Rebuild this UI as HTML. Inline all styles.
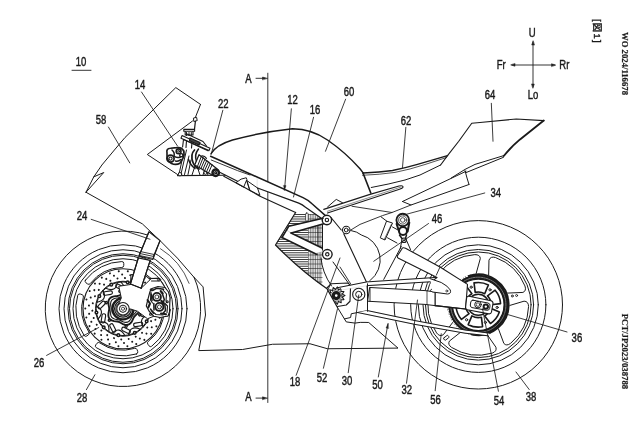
<!DOCTYPE html>
<html><head><meta charset="utf-8"><title>Fig. 1</title>
<style>
html,body{margin:0;padding:0;background:#fff;}
body{width:640px;height:427px;overflow:hidden;}
svg{display:block;will-change:transform;}
svg path, svg circle, svg line, svg ellipse, svg rect{stroke:#1a1a1a;stroke-linecap:round;stroke-linejoin:round;}
svg text{font-family:"Liberation Sans",sans-serif;fill:#1a1a1a;stroke:#1a1a1a;stroke-width:0.42px;}
svg text.serif{font-family:"Liberation Serif",serif;font-weight:bold;stroke-width:0.2px;}
svg text.cjk{font-family:"Liberation Sans","Noto Sans CJK JP",sans-serif;}
</style></head><body>
<svg width="640" height="427" viewBox="0 0 640 427">
<text transform="translate(75.80 66.10) scale(0.8 1)" font-size="11.9" text-anchor="start" >10</text>
<text transform="translate(134.80 89.30) scale(0.8 1)" font-size="11.9" text-anchor="start" >14</text>
<text transform="translate(95.80 123.80) scale(0.8 1)" font-size="11.9" text-anchor="start" >58</text>
<text transform="translate(218.00 107.80) scale(0.8 1)" font-size="11.9" text-anchor="start" >22</text>
<text transform="translate(287.30 103.60) scale(0.8 1)" font-size="11.9" text-anchor="start" >12</text>
<text transform="translate(309.80 113.80) scale(0.8 1)" font-size="11.9" text-anchor="start" >16</text>
<text transform="translate(343.80 95.80) scale(0.8 1)" font-size="11.9" text-anchor="start" >60</text>
<text transform="translate(400.80 124.50) scale(0.8 1)" font-size="11.9" text-anchor="start" >62</text>
<text transform="translate(484.80 98.60) scale(0.8 1)" font-size="11.9" text-anchor="start" >64</text>
<text transform="translate(490.40 196.80) scale(0.8 1)" font-size="11.9" text-anchor="start" >34</text>
<text transform="translate(431.80 223.30) scale(0.8 1)" font-size="11.9" text-anchor="start" >46</text>
<text transform="translate(76.80 220.10) scale(0.8 1)" font-size="11.9" text-anchor="start" >24</text>
<text transform="translate(33.80 366.70) scale(0.8 1)" font-size="11.9" text-anchor="start" >26</text>
<text transform="translate(76.80 402.30) scale(0.8 1)" font-size="11.9" text-anchor="start" >28</text>
<text transform="translate(289.80 385.80) scale(0.8 1)" font-size="11.9" text-anchor="start" >18</text>
<text transform="translate(316.80 381.60) scale(0.8 1)" font-size="11.9" text-anchor="start" >52</text>
<text transform="translate(341.80 384.80) scale(0.8 1)" font-size="11.9" text-anchor="start" >30</text>
<text transform="translate(372.30 388.80) scale(0.8 1)" font-size="11.9" text-anchor="start" >50</text>
<text transform="translate(401.40 394.30) scale(0.8 1)" font-size="11.9" text-anchor="start" >32</text>
<text transform="translate(430.30 403.60) scale(0.8 1)" font-size="11.9" text-anchor="start" >56</text>
<text transform="translate(493.80 404.80) scale(0.8 1)" font-size="11.9" text-anchor="start" >54</text>
<text transform="translate(525.80 401.40) scale(0.8 1)" font-size="11.9" text-anchor="start" >38</text>
<text transform="translate(571.60 341.80) scale(0.8 1)" font-size="11.9" text-anchor="start" >36</text>
<path d="M72.00 70.30 L91.00 70.30" stroke-width="0.88" fill="none" />
<text transform="translate(245.30 83.00) scale(0.8 1)" font-size="11.9" text-anchor="start" >A</text>
<text transform="translate(245.30 400.80) scale(0.8 1)" font-size="11.9" text-anchor="start" >A</text>
<text transform="translate(528.80 37.40) scale(0.8 1)" font-size="11.9" text-anchor="start" >U</text>
<text transform="translate(527.80 99.30) scale(0.8 1)" font-size="11.9" text-anchor="start" >Lo</text>
<text transform="translate(496.80 68.60) scale(0.8 1)" font-size="11.9" text-anchor="start" >Fr</text>
<text transform="translate(559.30 68.60) scale(0.8 1)" font-size="11.9" text-anchor="start" >Rr</text>
<path d="M533.00 42.00 L533.00 87.00" stroke-width="0.88" fill="none" />
<path d="M512.00 65.00 L554.50 65.00" stroke-width="0.88" fill="none" />
<path d="M533.00 41.00 L531.70 45.00 L534.30 45.00 Z" stroke-width="0.50" fill="#222" />
<path d="M533.00 88.00 L534.30 84.00 L531.70 84.00 Z" stroke-width="0.50" fill="#222" />
<path d="M511.00 65.00 L515.00 66.30 L515.00 63.70 Z" stroke-width="0.50" fill="#222" />
<path d="M555.50 65.00 L551.50 63.70 L551.50 66.30 Z" stroke-width="0.50" fill="#222" />
<path d="M267.80 73.20 L267.80 402.50" stroke-width="0.88" fill="none" />
<path d="M256.00 78.30 L264.00 78.30" stroke-width="0.88" fill="none" />
<path d="M267.30 78.30 L262.50 77.00 L262.50 79.60 Z" stroke-width="0.50" fill="#222" />
<path d="M256.00 398.10 L264.00 398.10" stroke-width="0.88" fill="none" />
<path d="M267.30 398.10 L262.50 396.80 L262.50 399.40 Z" stroke-width="0.50" fill="#222" />
<text class="cjk" transform="translate(594.4 18.9) rotate(90)" font-size="9.3" textLength="23.6" lengthAdjust="spacing">[図1]</text>
<text class="serif" transform="translate(621.6 32) rotate(90)" font-size="8.7">WO 2024/116678</text>
<text class="serif" transform="translate(621.6 313.8) rotate(90)" font-size="8.7">PCT/JP2023/038788</text>
<circle cx="123.00" cy="308.75" r="64.00" stroke-width="1.00" fill="none" />
<circle cx="123.00" cy="308.75" r="59.00" stroke-width="1.00" fill="none" />
<circle cx="123.00" cy="308.75" r="55.00" stroke-width="1.00" fill="none" />
<circle cx="123.00" cy="308.75" r="53.50" stroke-width="1.00" fill="none" />
<circle cx="123.00" cy="308.75" r="50.00" stroke-width="1.00" fill="none" />
<path d="M194.03 277.13 A77.75 77.75 0 1 1 147.67 235.02" stroke-width="1.00" fill="none" />
<circle cx="478.30" cy="304.80" r="84.20" stroke-width="1.00" fill="none" />
<circle cx="478.30" cy="304.80" r="67.60" stroke-width="1.00" fill="none" />
<circle cx="478.30" cy="304.80" r="60.00" stroke-width="1.00" fill="none" />
<circle cx="478.30" cy="304.80" r="55.30" stroke-width="1.00" fill="none" />
<circle cx="478.30" cy="304.80" r="52.80" stroke-width="1.00" fill="none" />
<path d="M489.11 259.78 Q490.47 255.99 495.50 257.53 A50.3 50.3 0 0 1 524.94 285.96 Q526.65 290.94 522.92 292.43 L506.48 293.13 A30.5 30.5 0 0 0 488.98 276.23 Z" stroke-width="1.00" fill="none" />
<path d="M524.46 301.17 Q528.48 301.29 528.57 306.56 A50.3 50.3 0 0 1 510.63 343.33 Q506.43 346.50 503.85 343.41 L498.11 327.99 A30.5 30.5 0 0 0 508.77 306.13 Z" stroke-width="1.00" fill="none" />
<path d="M496.02 347.58 Q497.14 351.44 492.16 353.15 A50.3 50.3 0 0 1 451.65 347.46 Q447.33 344.44 449.48 341.03 L462.36 330.81 A30.5 30.5 0 0 0 486.45 334.19 Z" stroke-width="1.00" fill="none" />
<path d="M443.09 334.87 Q439.77 337.13 436.60 332.93 A50.3 50.3 0 0 1 429.49 292.63 Q431.03 287.60 434.93 288.59 L448.64 297.68 A30.5 30.5 0 0 0 452.87 321.63 Z" stroke-width="1.00" fill="none" />
<path d="M438.82 280.61 Q435.64 278.15 438.66 273.83 A50.3 50.3 0 0 1 474.79 254.62 Q480.06 254.53 480.32 258.54 L475.91 274.39 A30.5 30.5 0 0 0 454.43 285.81 Z" stroke-width="1.00" fill="none" />
<circle cx="478.30" cy="304.80" r="29.40" stroke-width="1.12" fill="#fff" />
<path d="M473.09 334.34 A30.00 30.00 0 0 1 474.12 275.09" stroke-width="2.00" fill="none" />
<circle cx="478.3" cy="304.8" r="30.6" fill="none" stroke="#fff" stroke-width="1.3" stroke-dasharray="1.3 1.5" style="stroke:#fff"/>
<circle cx="478.30" cy="304.80" r="29.20" stroke-width="1.00" fill="none" />
<path d="M468.94 275.98 A30.30 30.30 0 1 1 471.48 334.32" stroke-width="2.00" fill="none" />
<circle cx="478.30" cy="304.80" r="27.60" stroke-width="3.75" fill="none" />
<circle cx="478.3" cy="304.8" r="27.6" fill="none" stroke-width="0.5" style="stroke:#ddd" stroke-dasharray="1.6 1.0"/>
<circle cx="478.30" cy="304.80" r="25.80" stroke-width="1.25" fill="none" />
<path d="M474.04 282.91 A22.3 22.3 0 0 1 488.42 284.93 L484.70 293.71 A12.8 12.8 0 0 0 475.20 292.38 Z" stroke-width="1.62" fill="none" />
<circle cx="490.00" cy="289.83" r="1.10" stroke-width="1.00" fill="none" />
<path d="M495.13 290.17 A22.3 22.3 0 0 1 500.57 303.63 L491.10 304.80 A12.8 12.8 0 0 0 487.51 295.91 Z" stroke-width="1.62" fill="none" />
<circle cx="497.12" cy="307.44" r="1.10" stroke-width="1.00" fill="none" />
<path d="M499.39 312.06 A22.3 22.3 0 0 1 490.45 323.50 L484.70 315.89 A12.8 12.8 0 0 0 490.60 308.33 Z" stroke-width="1.62" fill="none" />
<circle cx="485.42" cy="322.42" r="1.10" stroke-width="1.00" fill="none" />
<path d="M482.56 326.69 A22.3 22.3 0 0 1 468.18 324.67 L471.90 315.89 A12.8 12.8 0 0 0 481.40 317.22 Z" stroke-width="1.62" fill="none" />
<circle cx="466.60" cy="319.77" r="1.10" stroke-width="1.00" fill="none" />
<path d="M461.47 319.43 A22.3 22.3 0 0 1 456.03 305.97 L465.50 304.80 A12.8 12.8 0 0 0 469.09 313.69 Z" stroke-width="1.62" fill="none" />
<circle cx="459.48" cy="302.16" r="1.10" stroke-width="1.00" fill="none" />
<path d="M457.21 297.54 A22.3 22.3 0 0 1 466.15 286.10 L471.90 293.71 A12.8 12.8 0 0 0 466.00 301.27 Z" stroke-width="1.62" fill="none" />
<circle cx="471.18" cy="287.18" r="1.10" stroke-width="1.00" fill="none" />
<circle cx="478.30" cy="304.80" r="10.50" stroke-width="1.50" fill="none" />
<circle cx="512.30" cy="296.00" r="1.00" stroke-width="0.88" fill="none" />
<circle cx="516.60" cy="295.50" r="1.00" stroke-width="0.88" fill="none" />
<rect x="443.6" y="336.4" width="5.4" height="2.8" rx="0.8" transform="rotate(-38 446.3 337.8)" fill="#fff" stroke-width="0.9"/>
<path d="M200.50 104.40 L175.80 87.60 L125.00 137.50 L114.40 150.00 L101.90 165.00 L93.75 176.90 L86.00 192.25" stroke-width="1.00" fill="none" />
<path d="M93.75 176.90 L103.75 172.50 L86.00 192.25" stroke-width="1.00" fill="none" />
<path d="M86 192.25 L142.4 223.9 L160 240.6 Q178 257.5 193.75 277 L203.1 286.9 L205.5 315 L198.75 350.6 L242.5 349.5 L272.5 344.25 L310 343.75 L327.5 348.75 L398 348.1 L368.75 322.5 L366 322.4 Q360 322 355 323.1 L346.25 321.9 L337.5 307.5" stroke-width="1.00" fill="none" />
<path d="M192.50 121.00 L147.30 154.50 L177.50 174.50" stroke-width="1.00" fill="none" />
<path d="M200.50 104.40 L195.30 117.60" stroke-width="1.00" fill="none" />
<path d="M211 153.75 Q216 145 232.5 140 Q262 132 292.5 128.75 Q312 129 327.5 140 Q345 152 360 168.75 L363.5 173.4" stroke-width="1.44" fill="none" />
<clipPath id="radclip"><path d="M295.6 212.5 L308 212.5 L308 275 Q292 262 275.5 245 Z"/></clipPath>
<path clip-path="url(#radclip)" d="M270 214.50 H308.5 M270 216.75 H308.5 M270 219.00 H308.5 M270 221.25 H308.5 M270 223.50 H308.5 M270 225.75 H308.5 M270 228.00 H308.5 M270 230.25 H308.5 M270 232.50 H308.5 M270 234.75 H308.5 M270 237.00 H308.5 M270 239.25 H308.5 M270 241.50 H308.5 M270 243.75 H308.5 M270 246.00 H308.5 M270 248.25 H308.5 M270 250.50 H308.5 M270 252.75 H308.5 M270 255.00 H308.5 M270 257.25 H308.5 M270 259.50 H308.5 M270 261.75 H308.5 M270 264.00 H308.5 M270 266.25 H308.5 M270 268.50 H308.5 M270 270.75 H308.5 M270 273.00 H308.5 M270 275.25 H308.5 M270 277.50 H308.5 M270 279.75 H308.5 M270 282.00 H308.5 M270 284.25 H308.5 M270 286.50 H308.5 M270 288.75 H308.5" stroke-width="0.85"/>
<clipPath id="radclip2"><path d="M308 214 L322.5 214 L322.5 286.5 L308 275 Z"/></clipPath>
<path clip-path="url(#radclip2)" d="M308.60 214 V287 M310.35 214 V287 M312.10 214 V287 M313.85 214 V287 M315.60 214 V287 M317.35 214 V287 M319.10 214 V287 M320.85 214 V287 M308 214.50 H323 M308 219.00 H323 M308 223.50 H323 M308 228.00 H323 M308 232.50 H323 M308 237.00 H323 M308 241.50 H323 M308 246.00 H323 M308 250.50 H323 M308 255.00 H323 M308 259.50 H323 M308 264.00 H323 M308 268.50 H323 M308 273.00 H323 M308 277.50 H323 M308 282.00 H323 M308 286.50 H323" stroke-width="0.55"/>
<path d="M295.6 212.5 L275.5 245 Q300 270 327 288.75 L337.5 307.5" stroke-width="1.25" fill="none" />
<path d="M344.5 318.9 L350.6 317.5 L351.25 313.75 L367.5 310.6" stroke-width="1.00" fill="none" />
<path d="M322.50 224.50 L322.50 251.00" stroke-width="1.00" fill="none" />
<path d="M318.00 226.00 L318.00 249.00" stroke-width="0.75" fill="none" />
<path d="M323.00 218.30 L288.75 226.25 L285.50 229.50 L291.25 233.00 L323.75 223.75 Z" stroke-width="0.12" fill="#fff" stroke="none"/>
<path d="M291.00 233.00 L285.50 229.50 L282.00 237.50 L315.00 253.50 L323.00 251.50 L321.00 247.50 Z" stroke-width="0.12" fill="#fff" stroke="none"/>
<rect x="305.6" y="213" width="2.6" height="8" rx="1" fill="#fff" stroke-width="0.7"/>
<path d="M257.50 188.00 L298.75 203.10 L305.50 207.20 L322.40 219.00 L326.30 216.40 L312.00 203.80 L303.00 197.60 L257.50 177.40 Z" stroke-width="0.12" fill="#fff" stroke="none"/>
<path d="M210.6 156.25 L237.5 168.3 L303 197.6 Q308 199.8 312 203.8 L326.3 216.4" stroke-width="1.50" fill="none" />
<path d="M211.25 160 L237.5 170.6 L250 175" stroke-width="0.88" fill="none" />
<path d="M257.5 188 L298.75 203.1 Q302.5 204.6 305.5 207.2 L322.4 219" stroke-width="1.25" fill="none" />
<path d="M216.25 170.6 L237.5 181.25" stroke-width="1.12" fill="none" />
<path d="M223.75 176.25 L243.75 186.9 L260 196.25 L295.6 212.5" stroke-width="1.12" fill="none" />
<path d="M236.25 182.5 Q241 178 246.25 177.75 L246.9 179.4 L243.75 186.9 Z" stroke-width="1.00" fill="none" />
<path d="M246.9 180.6 L257.5 188 L260 195.5 L250 190.5 Z" stroke-width="1.00" fill="none" />
<path d="M246.9 180.6 L250 190.5" stroke-width="0.88" fill="none" />
<circle cx="326.90" cy="220.00" r="4.70" stroke-width="1.38" fill="#fff" />
<circle cx="326.90" cy="220.00" r="1.70" stroke-width="1.12" fill="none" />
<path d="M323.00 218.30 L288.75 226.25 L282.00 237.50" stroke-width="1.50" fill="none" />
<path d="M323.75 223.75 L291.25 233.00" stroke-width="1.50" fill="none" />
<path d="M291.00 233.00 L322.00 248.00" stroke-width="1.50" fill="none" />
<path d="M282.00 237.50 L317.00 254.50" stroke-width="1.50" fill="none" />
<circle cx="327.30" cy="254.30" r="4.80" stroke-width="1.38" fill="#fff" />
<circle cx="327.30" cy="254.30" r="1.70" stroke-width="1.12" fill="none" />
<path d="M331 217.5 L341.25 230" stroke-width="1.12" fill="none" />
<path d="M343.75 233.75 L366.9 283 L367.5 293" stroke-width="1.12" fill="none" />
<circle cx="346.25" cy="230.00" r="3.75" stroke-width="1.12" fill="#fff" />
<circle cx="346.25" cy="230.00" r="1.90" stroke-width="1.00" fill="none" />
<path d="M351.25 230.6 Q357 231.5 361.2 234.9 A26 26 0 0 1 370 280.6" stroke-width="1.00" fill="none" />
<path d="M321 258 Q322 272 331.5 286" stroke-width="1.00" fill="none" />
<path d="M333 262 L348 282.5" stroke-width="1.00" fill="none" />
<path d="M340 267 L350.6 283.75" stroke-width="0.88" fill="none" />
<path d="M326.90 288.00 L331.25 283.75 L348.00 283.00 L350.60 285.60 L350.00 301.25 L346.25 305.00 L337.50 306.50" stroke-width="1.12" fill="none" />
<clipPath id="spclip"><path d="M326.9 288 L331.25 283.75 L348 283 L350.6 285.6 L350 301.25 L346.25 305 L337.5 306.5 Z"/></clipPath>
<path d="M344.95 295.60 L342.27 297.08 L343.95 299.64 L340.89 299.71 L341.19 302.76 L338.45 301.40 L337.30 304.24 L335.50 301.75 L333.16 303.73 L332.73 300.70 L329.74 301.37 L330.76 298.48 L327.80 297.68 L330.05 295.60 L327.80 293.52 L330.76 292.72 L329.74 289.83 L332.73 290.50 L333.16 287.47 L335.50 289.45 L337.30 286.96 L338.45 289.80 L341.19 288.44 L340.89 291.49 L343.95 291.56 L342.27 294.12 L344.95 295.60 Z" stroke-width="1.12" fill="none" clip-path="url(#spclip)"/>
<circle cx="336.25" cy="295.60" r="5.60" stroke-width="0.62" fill="none" clip-path="url(#spclip)"/>
<circle cx="336.25" cy="295.60" r="3.00" stroke-width="3.25" fill="none" />
<circle cx="358.75" cy="294.40" r="6.10" stroke-width="1.12" fill="#fff" />
<circle cx="358.75" cy="294.40" r="3.10" stroke-width="1.00" fill="none" />
<path d="M363 173 L370.8 193" stroke-width="1.62" fill="none" />
<path d="M363 173 Q380 172.5 392.5 170.6 Q405 168 417.5 164.4 L447.5 155.6" stroke-width="1.50" fill="none" />
<path d="M362.5 175.3 Q380 174.6 395 172.4 Q410 169.5 425 164.5 L446.5 157.5" stroke-width="0.75" fill="none" />
<path d="M371.25 187.5 Q390 184 405 180 L420 175 L440.6 165" stroke-width="1.00" fill="none" />
<path d="M440.6 165 L447.5 155.6 L458.75 141.25 L471.75 123.25 L480 122.5 L516.25 119 L543.75 120.6" stroke-width="1.12" fill="none" />
<path d="M543.75 120.6 L520 139.4 Q511 147 503.75 156" stroke-width="1.88" fill="none" />
<path d="M503.75 155.6 L475 164.4 L465 169.4 L451.25 178" stroke-width="1.00" fill="none" />
<path d="M503.5 157.3 L466.25 172.5" stroke-width="1.00" fill="none" />
<path d="M465 170.6 L467 178 L469 184.5" stroke-width="1.00" fill="none" />
<path d="M402.50 201.50 L466.00 171.30" stroke-width="1.00" fill="none" />
<path d="M469.00 184.50 L411.00 205.00 L402.50 201.50" stroke-width="1.00" fill="none" />
<path d="M411.00 205.00 L392.00 212.50 L352.00 206.25" stroke-width="0.88" fill="none" />
<path d="M392 212.5 L382.5 215.6 L360 224.4 L350 230.5" stroke-width="0.88" fill="none" />
<path d="M323.75 209.4 L370 194.4 L399 186 Q403.5 185.2 403 187.3 Q402.5 188.5 399.5 189.2 L327.5 213" stroke-width="1.12" fill="none" />
<path d="M327.5 211.25 L400.5 187.2" stroke-width="0.50" fill="none" />
<path d="M327.50 207.00 L336.25 199.40 L342.50 202.75" stroke-width="1.00" fill="none" />
<path d="M340.00 287.20 L366.90 281.90 L437.00 277.40 L434.00 281.60 L367.50 285.60 L342.00 290.00 Z" stroke-width="0.12" fill="#fff" stroke="none"/>
<path d="M367.50 310.60 L415.00 320.60 L465.00 330.00 L490.00 333.20 L488.00 335.80 L465.00 333.20 L415.00 324.40 L357.50 312.50 Z" stroke-width="0.12" fill="#fff" stroke="none"/>
<path d="M338 287.6 L366.9 281.9 L437 277.4" stroke-width="1.00" fill="none" />
<path d="M367.5 285.6 L434 281.6" stroke-width="1.00" fill="none" />
<path d="M367.5 310.6 L415 320.6 L465 330 L490 333.2" stroke-width="1.00" fill="none" />
<path d="M357.5 312.5 L415 324.4 L465 333.2 L488 335.8" stroke-width="1.00" fill="none" />
<path d="M401.5 249.5 Q402.5 246.8 405.5 248.2 L440 267 L467.5 284.4 L465.6 309 L435 305.6 L435 291.9 L433 280.5 L437 277.6 L398.5 258.3 Q396.6 257 397.6 255.5 Z" stroke-width="1.12" fill="#fff" />
<path d="M440.00 267.00 L436.30 275.20" stroke-width="0.88" fill="none" />
<path d="M401.25 246.50 L383.75 279.40" stroke-width="1.00" fill="none" />
<path d="M367.50 283.75 L367.50 311.25" stroke-width="1.00" fill="none" />
<path d="M370 287.5 L425 290.6 L435 291.9 L435 305.6 L425 304.4 L368 301.25 Z" stroke-width="1.00" fill="#fff" />
<path d="M370.00 287.50 L370.00 301.30" stroke-width="0.88" fill="none" />
<path d="M427.00 290.80 L427.00 304.60" stroke-width="0.75" fill="none" />
<path d="M435 305.6 L465 309" stroke-width="1.12" fill="none" />
<path d="M430 278.6 L441.25 282.5 Q448 286 450.3 290 Q451.5 293.8 447.5 294 L432.5 292 " stroke-width="1.00" fill="#fff" />
<circle cx="446.80" cy="291.00" r="1.00" stroke-width="0.75" fill="none" />
<path d="M469 296.3 L491 300.7 Q493.2 301.3 493 303.5 L491.5 312 Q491 314.2 488.8 313.9 L467.5 309.8 Q465.2 309.3 465.6 307 L466.6 298 Q467 296 469 296.3 Z" stroke-width="1.12" fill="#fff" />
<path d="M473 300.2 L488 303 Q490.5 303.7 490 306 L489.6 308.5 Q489 310.6 486.8 310.3 L472 307.6 Q470 307 470.3 305 L470.8 302 Q471.2 299.9 473 300.2 Z" stroke-width="1.00" fill="none" />
<circle cx="478.00" cy="304.60" r="3.30" stroke-width="1.00" fill="#fff" />
<circle cx="478.00" cy="304.60" r="1.80" stroke-width="0.75" fill="none" />
<circle cx="485.80" cy="306.60" r="2.20" stroke-width="2.00" fill="#fff" />
<path d="M381.25 217.00 L386.90 221.25" stroke-width="1.00" fill="none" />
<path d="M386.90 221.25 L392.50 223.00 L385.00 240.00 L380.60 238.00 Z" stroke-width="1.00" fill="#fff" />
<path d="M392.50 227.00 L398.00 230.00" stroke-width="1.00" fill="none" />
<path d="M387.50 237.80 L397.00 243.00" stroke-width="1.00" fill="none" />
<path d="M391.30 224.50 L384.20 239.60" stroke-width="0.62" fill="none" />
<circle cx="402.75" cy="220.00" r="6.30" stroke-width="1.88" fill="#fff" />
<circle cx="402.75" cy="220.00" r="4.10" stroke-width="0.75" fill="none" />
<circle cx="402.75" cy="220.00" r="2.30" stroke-width="0.75" fill="none" />
<path d="M396.6 224 L399 231 M409.3 222.5 L407.6 231.5" stroke-width="2.00" fill="none" />
<circle cx="403.00" cy="231.00" r="4.00" stroke-width="2.00" fill="#fff" />
<circle cx="404.00" cy="240.25" r="2.30" stroke-width="1.12" fill="#fff" />
<circle cx="404.00" cy="240.25" r="0.70" stroke-width="0.75" fill="none" />
<path d="M401.7 241 L400.3 248.5 M406.2 239.6 L410.5 249.5" stroke-width="1.00" fill="none" />
<path d="M399.5 235 L401.8 238.3 M406.5 235 L405.6 238" stroke-width="1.50" fill="none" />
<path d="M136.46 353.99 A47.2 47.2 0 0 1 96.22 347.62 Q94.59 346.45 95.80 344.85 L96.94 343.33 Q98.15 341.73 99.77 342.90 A41.3 41.3 0 0 0 134.54 348.41 Q136.45 347.80 137.10 349.69 L137.72 351.49 Q138.37 353.38 136.46 353.99 Z" stroke-width="1.00" fill="none" />
<path d="M84.13 335.53 A47.2 47.2 0 0 1 77.76 295.29 Q78.37 293.38 80.26 294.03 L82.06 294.65 Q83.95 295.30 83.34 297.21 A41.3 41.3 0 0 0 88.85 331.98 Q90.02 333.60 88.42 334.81 L86.90 335.95 Q85.30 337.16 84.13 335.53 Z" stroke-width="1.00" fill="none" />
<path d="M85.52 280.06 A47.2 47.2 0 0 1 121.82 261.56 Q123.82 261.56 123.79 263.56 L123.76 265.46 Q123.72 267.46 121.72 267.47 A41.3 41.3 0 0 0 90.36 283.45 Q89.17 285.06 87.53 283.91 L85.97 282.82 Q84.34 281.68 85.52 280.06 Z" stroke-width="1.00" fill="none" />
<path d="M138.70 264.24 A47.2 47.2 0 0 1 167.51 293.05 Q168.14 294.95 166.22 295.53 L164.41 296.09 Q162.50 296.68 161.86 294.78 A41.3 41.3 0 0 0 136.97 269.89 Q135.07 269.25 135.66 267.34 L136.22 265.53 Q136.80 263.61 138.70 264.24 Z" stroke-width="1.00" fill="none" />
<path d="M170.19 309.93 A47.2 47.2 0 0 1 151.69 346.23 Q150.07 347.41 148.93 345.78 L147.84 344.22 Q146.69 342.58 148.30 341.39 A41.3 41.3 0 0 0 164.28 310.03 Q164.29 308.03 166.29 307.99 L168.19 307.96 Q170.19 307.93 170.19 309.93 Z" stroke-width="1.00" fill="none" />
<circle cx="123.00" cy="308.75" r="40.00" stroke-width="1.12" fill="#fff" />
<circle cx="123.00" cy="308.75" r="27.50" stroke-width="1.00" fill="none" />
<circle cx="123" cy="308.75" r="37.7" fill="none" stroke-width="2.0" stroke-dasharray="0.01 9.101" transform="rotate(0 123 308.75)"/>
<circle cx="123" cy="308.75" r="34.2" fill="none" stroke-width="2.0" stroke-dasharray="0.01 8.255" transform="rotate(5 123 308.75)"/>
<circle cx="123" cy="308.75" r="30.7" fill="none" stroke-width="2.0" stroke-dasharray="0.01 7.409" transform="rotate(10 123 308.75)"/>
<circle cx="123.00" cy="308.75" r="26.80" stroke-width="1.00" fill="none" />
<rect x="142.67" y="307.94" width="3.6" height="9.2" rx="1.8" transform="rotate(225.0 144.47 312.54)" fill="none" stroke-width="1.15"/>
<circle cx="146.66" cy="321.33" r="1.30" stroke-width="1.50" fill="#fff" />
<path d="M149.00 315.23 Q138.16 317.50 142.92 326.68" stroke-width="1.12" fill="none" />
<rect x="136.34" y="319.83" width="3.6" height="9.2" rx="1.8" transform="rotate(261.0 138.14 324.43)" fill="none" stroke-width="1.15"/>
<circle cx="134.75" cy="332.84" r="1.30" stroke-width="1.50" fill="#fff" />
<path d="M140.23 329.28 Q130.12 324.74 128.57 334.96" stroke-width="1.12" fill="none" />
<rect x="124.23" y="325.74" width="3.6" height="9.2" rx="1.8" transform="rotate(297.0 126.03 330.34)" fill="none" stroke-width="1.15"/>
<circle cx="118.35" cy="335.14" r="1.30" stroke-width="1.50" fill="#fff" />
<path d="M124.87 335.48 Q119.36 325.87 112.10 333.23" stroke-width="1.12" fill="none" />
<rect x="110.97" y="323.40" width="3.6" height="9.2" rx="1.8" transform="rotate(333.0 112.77 328.00)" fill="none" stroke-width="1.15"/>
<circle cx="103.72" cy="327.37" r="1.30" stroke-width="1.50" fill="#fff" />
<path d="M108.80 331.48 Q109.99 320.46 99.79 322.15" stroke-width="1.12" fill="none" />
<rect x="101.61" y="313.71" width="3.6" height="9.2" rx="1.8" transform="rotate(369.0 103.41 318.31)" fill="none" stroke-width="1.15"/>
<circle cx="96.46" cy="312.48" r="1.30" stroke-width="1.50" fill="#fff" />
<path d="M98.15 318.79 Q105.60 310.58 96.35 305.95" stroke-width="1.12" fill="none" />
<rect x="99.73" y="300.36" width="3.6" height="9.2" rx="1.8" transform="rotate(405.0 101.53 304.96)" fill="none" stroke-width="1.15"/>
<circle cx="99.34" cy="296.17" r="1.30" stroke-width="1.50" fill="#fff" />
<path d="M97.00 302.27 Q107.84 300.00 103.08 290.82" stroke-width="1.12" fill="none" />
<rect x="106.06" y="288.47" width="3.6" height="9.2" rx="1.8" transform="rotate(441.0 107.86 293.07)" fill="none" stroke-width="1.15"/>
<circle cx="111.25" cy="284.66" r="1.30" stroke-width="1.50" fill="#fff" />
<path d="M105.77 288.22 Q115.88 292.76 117.43 282.54" stroke-width="1.12" fill="none" />
<rect x="118.17" y="282.56" width="3.6" height="9.2" rx="1.8" transform="rotate(477.0 119.97 287.16)" fill="none" stroke-width="1.15"/>
<circle cx="127.65" cy="282.36" r="1.30" stroke-width="1.50" fill="#fff" />
<path d="M121.13 282.02 Q126.64 291.63 133.90 284.27" stroke-width="1.12" fill="none" />
<rect x="131.43" y="284.90" width="3.6" height="9.2" rx="1.8" transform="rotate(513.0 133.23 289.50)" fill="none" stroke-width="1.15"/>
<circle cx="142.28" cy="290.13" r="1.30" stroke-width="1.50" fill="#fff" />
<path d="M137.20 286.02 Q136.01 297.04 146.21 295.35" stroke-width="1.12" fill="none" />
<rect x="140.79" y="294.59" width="3.6" height="9.2" rx="1.8" transform="rotate(549.0 142.59 299.19)" fill="none" stroke-width="1.15"/>
<circle cx="149.54" cy="305.02" r="1.30" stroke-width="1.50" fill="#fff" />
<path d="M147.85 298.71 Q140.40 306.92 149.65 311.55" stroke-width="1.12" fill="none" />
<path d="M139.80 308.75 L139.51 310.49 L138.70 312.09 L137.55 313.48 L136.29 314.67 L135.13 315.75 L134.16 316.86 L133.40 318.12 L132.74 319.56 L131.99 321.13 L131.03 322.65 L129.75 323.91 L128.19 324.73 L126.45 324.99 L124.68 324.71 L123.00 324.05 L121.48 323.22 L120.09 322.45 L118.74 321.87 L117.31 321.54 L115.73 321.35 L114.01 321.13 L112.26 320.68 L110.66 319.86 L109.41 318.62 L108.62 317.05 L108.34 315.28 L108.45 313.48 L108.77 311.78 L109.08 310.21 L109.20 308.75 L109.08 307.29 L108.77 305.72 L108.45 304.02 L108.34 302.22 L108.62 300.45 L109.41 298.88 L110.66 297.64 L112.26 296.82 L114.01 296.37 L115.72 296.15 L117.31 295.96 L118.74 295.63 L120.09 295.05 L121.48 294.28 L123.00 293.45 L124.68 292.79 L126.45 292.51 L128.19 292.77 L129.75 293.59 L131.03 294.85 L131.99 296.37 L132.74 297.94 L133.40 299.38 L134.16 300.64 L135.13 301.75 L136.29 302.83 L137.55 304.02 L138.70 305.41 L139.51 307.01 L139.80 308.75 Z" stroke-width="1.88" fill="none" />
<path d="M137.10 308.75 L136.88 310.21 L136.25 311.57 L135.36 312.77 L134.37 313.81 L133.43 314.77 L132.63 315.74 L131.95 316.81 L131.33 318.00 L130.64 319.27 L129.78 320.48 L128.68 321.50 L127.36 322.16 L125.90 322.40 L124.42 322.23 L123.00 321.75 L121.70 321.13 L120.50 320.53 L119.32 320.07 L118.10 319.76 L116.78 319.53 L115.36 319.27 L113.93 318.82 L112.63 318.09 L111.59 317.04 L110.92 315.73 L110.62 314.26 L110.64 312.77 L110.82 311.34 L111.02 310.01 L111.10 308.75 L111.02 307.49 L110.82 306.16 L110.64 304.73 L110.62 303.24 L110.92 301.77 L111.59 300.46 L112.63 299.41 L113.93 298.68 L115.36 298.23 L116.77 297.97 L118.10 297.74 L119.32 297.43 L120.50 296.97 L121.70 296.37 L123.00 295.75 L124.42 295.27 L125.90 295.10 L127.36 295.34 L128.68 296.00 L129.78 297.02 L130.64 298.23 L131.33 299.50 L131.95 300.69 L132.63 301.76 L133.43 302.73 L134.37 303.69 L135.36 304.73 L136.25 305.93 L136.88 307.29 L137.10 308.75 Z" stroke-width="1.12" fill="none" />
<circle cx="123.00" cy="308.75" r="10.60" stroke-width="2.38" fill="none" />
<circle cx="123.00" cy="308.75" r="8.40" stroke-width="1.25" fill="none" />
<circle cx="123.00" cy="308.75" r="7.10" stroke-width="0.88" fill="none" />
<circle cx="139.73" cy="314.84" r="1.10" stroke-width="1.38" fill="#fff" />
<circle cx="126.09" cy="326.28" r="1.10" stroke-width="1.38" fill="#fff" />
<circle cx="109.36" cy="320.19" r="1.10" stroke-width="1.38" fill="#fff" />
<circle cx="106.27" cy="302.66" r="1.10" stroke-width="1.38" fill="#fff" />
<circle cx="119.91" cy="291.22" r="1.10" stroke-width="1.38" fill="#fff" />
<circle cx="136.64" cy="297.31" r="1.10" stroke-width="1.38" fill="#fff" />
<path d="M131.00 275.00 L130.40 284.50 L118.75 286.25 L120.00 292.00 L121.30 298.00 L119.00 303.00 L123.00 309.50 L130.60 309.00 L137.50 311.25 L147.50 318.75 L153.75 316.25 L168.00 316.00 L170.00 297.50 L165.00 287.50 L160.50 280.50 L158.75 278.20 L151.25 278.60 L141.20 288.20 L143.75 275.00 Z" stroke-width="1.00" fill="#fff" />
<path d="M149.00 231.80 L139.00 256.00 L152.80 259.50 L160.00 240.60 Z" stroke-width="1.12" fill="#fff" stroke="none"/>
<path d="M148.80 232.00 L139.30 255.20" stroke-width="1.12" fill="none" />
<path d="M160.00 240.80 L153.40 256.50" stroke-width="1.12" fill="none" />
<path d="M140.60 251.60 L154.60 254.60" stroke-width="0.88" fill="none" />
<path d="M139.80 253.50 L153.80 256.50" stroke-width="0.88" fill="none" />
<path d="M139.00 255.40 L153.00 258.40" stroke-width="0.88" fill="none" />
<path d="M138.30 258.00 L130.40 284.00 L141.20 288.20 L150.20 260.40 Z" stroke-width="1.12" fill="#fff" stroke="none"/>
<path d="M138.30 258.00 L130.40 284.00" stroke-width="1.12" fill="none" />
<path d="M150.20 260.40 L141.20 288.20" stroke-width="1.12" fill="none" />
<path d="M130.40 284.00 L141.20 288.20" stroke-width="1.00" fill="none" />
<circle cx="123.00" cy="308.75" r="6.20" stroke-width="1.12" fill="#fff" />
<circle cx="123.00" cy="308.75" r="3.60" stroke-width="1.00" fill="none" />
<circle cx="123.00" cy="308.75" r="1.60" stroke-width="0.75" fill="none" />
<path d="M149.4 278.4 H160 Q161.5 279.6 160 281 H151.5" stroke-width="1.00" fill="none" />
<circle cx="158.30" cy="279.80" r="1.00" stroke-width="0.75" fill="none" />
<path d="M150 291.5 L152 288.5 L158 286.5 L165 287.5 L168.5 292 L170 297.5 L169.5 312 L168 316 L160 317.5 L153.75 316.25 L149 311 L146.3 306 L148 299 Z" stroke-width="1.12" fill="#fff" />
<circle cx="156.90" cy="296.90" r="4.00" stroke-width="1.88" fill="#fff" />
<circle cx="156.90" cy="296.90" r="2.00" stroke-width="0.88" fill="none" />
<circle cx="159.40" cy="306.90" r="4.00" stroke-width="1.88" fill="#fff" />
<circle cx="159.40" cy="306.90" r="2.00" stroke-width="0.88" fill="none" />
<path d="M151 292 L150.5 300 L152.5 303 M163 290 L166.5 294 L166 301 M164.5 303 L167.5 306 L167 312.5 M152 311 L156 314.5 L163 315" stroke-width="1.12" fill="none" />
<path d="M147.5 300 L150 303.5 L148.3 307.5 M161 313.5 L166 314.2" stroke-width="2.00" fill="none" />
<path d="M152.5 290.5 L157 288.2 L163.5 289.3 M151.2 294 L152 300.5 M162.3 293.5 L164.3 299.5 L163.2 302.8 M153.8 303.5 L154 310 M164.8 304.5 L165.5 310.5 L163.3 313 M150.5 309 L153.5 313.2" stroke-width="1.50" fill="none" />
<circle cx="151.20" cy="289.80" r="1.00" stroke-width="1.12" fill="none" />
<circle cx="167.20" cy="301.80" r="1.00" stroke-width="1.12" fill="none" />
<circle cx="150.60" cy="314.30" r="1.00" stroke-width="1.12" fill="none" />
<path d="M160.8 291.2 L162.6 293.4 M161.5 301 L163.5 303.6" stroke-width="2.25" fill="none" />
<path d="M160.52 248.71 A70.80 70.80 0 0 1 189.10 283.38" stroke-width="0.75" fill="none" />
<path d="M193.8 118 L196.6 117.3 L197.2 120.6 L194.2 121.4 Z" stroke-width="1.00" fill="#fff" />
<path d="M195.4 121.3 L194.5 129.2" stroke-width="1.25" fill="none" />
<path d="M183.8 129.4 H194.6 V131.3 H183.8 Z" stroke-width="1.12" fill="#fff" />
<path d="M185.2 131.5 V135 H193 V131.5" stroke-width="1.12" fill="none" />
<path d="M186.5 132.5 V135.5 M189 132.5 V135.5 M191.3 132.5 V135.5" stroke-width="1.00" fill="none" />
<path d="M182 135.6 L210 148.2 L209 150.6 L181 138.2 Z" stroke-width="1.12" fill="#fff" />
<path d="M183.5 139.5 L208 150.8 M187 134 L203 141.5 L206.5 146" stroke-width="1.12" fill="none" />
<path d="M190 138 L200 142.5 L199 145 L189.5 140.8 Z" stroke-width="1.25" fill="#444" />
<path d="M183.5 139.5 L182.6 147 M186.5 140.8 L186 147.5 M192 142.5 L191.5 148" stroke-width="1.12" fill="none" />
<path d="M177.5 175.6 L225 175.3" stroke-width="1.12" fill="none" />
<path d="M177.5 175.6 L179.5 172 L184 151" stroke-width="1.00" fill="none" />
<path d="M181 174 L186.5 150 M184.5 174.5 L189 156 M188 174.5 L191 160" stroke-width="1.00" fill="none" />
<circle cx="180.00" cy="174.20" r="1.70" stroke-width="1.00" fill="#fff" />
<path d="M192 175 L196 163 L200 175 M203 175 L205 168 L208 175" stroke-width="1.00" fill="none" />
<circle cx="205.50" cy="172.80" r="1.60" stroke-width="1.00" fill="#fff" />
<path d="M167 153 Q166 148.5 170.5 148.3 L176.5 147.6 Q181.5 146.8 183.5 150.5 Q185 154.5 182.8 158.5 L180 163.2 Q176 165.5 171.5 163.5 Q167.2 161 167 156 Z" stroke-width="1.62" fill="#fff" />
<circle cx="178.60" cy="151.30" r="2.40" stroke-width="1.62" fill="none" />
<circle cx="178.60" cy="151.30" r="0.90" stroke-width="1.00" fill="none" />
<circle cx="170.50" cy="158.60" r="3.60" stroke-width="1.75" fill="none" />
<circle cx="170.50" cy="158.60" r="1.60" stroke-width="1.12" fill="none" />
<path d="M172 150 Q175 152.5 174 156 Q176.5 158.5 180.5 157 M175.5 161 Q178.5 161.8 180.8 159.5" stroke-width="1.50" fill="none" />
<circle cx="181.30" cy="155.20" r="1.60" stroke-width="1.38" fill="none" />
<g transform="translate(2.5 1.5)">
<path d="M192 148.5 Q187.5 153 190.5 161 Q192.5 166 196.5 167.5" stroke-width="1.75" fill="none" />
<path d="M196 147.5 Q191.5 153 194 160 Q196 165 200 166.5" stroke-width="1.50" fill="none" />
<path d="M186 158 Q188 164 192.5 167" stroke-width="1.50" fill="none" />
<path d="M196.5 153.2 L213.8 166.8 Q216.8 169.2 215.5 172 Q213.5 175 210 173.8 L192.2 163.5 Z" stroke-width="1.25" fill="#fff" />
<path d="M198.8 155 L195 164.8 M200.6 156.3 L196.7 166 M202.4 157.7 L198.4 167.2 M204.2 159.1 L200.2 168.3 M206 160.5 L202 169.4 M207.8 161.9 L204 170.4 M209.6 163.3 L206 171.5" stroke-width="1.00" fill="none" />
<path d="M199 154.5 Q202 154 204 156.8" stroke-width="1.12" fill="none" />
<circle cx="213.20" cy="171.20" r="3.20" stroke-width="2.50" fill="#fff" />
<circle cx="213.20" cy="171.20" r="1.00" stroke-width="1.25" fill="none" />
</g>
<path d="M141.50 92.00 L177.50 146.00" stroke-width="0.85" fill="none" />
<path d="M108.42 127.05 L129.75 162.90" stroke-width="0.85" fill="none" />
<path d="M222.84 110.24 L211.20 154.30" stroke-width="0.85" fill="none" />
<path d="M291.35 108.79 L284.50 190.00" stroke-width="0.85" fill="none" />
<path d="M313.56 117.25 L293.50 197.00" stroke-width="0.85" fill="none" />
<path d="M345.60 99.18 L325.50 151.25" stroke-width="0.85" fill="none" />
<path d="M405.85 127.29 L402.50 167.50" stroke-width="0.85" fill="none" />
<path d="M491.33 103.30 L493.00 141.25" stroke-width="0.85" fill="none" />
<path d="M484.76 192.97 L403.75 215.00" stroke-width="0.85" fill="none" />
<path d="M428.52 223.52 L373.75 261.25" stroke-width="0.85" fill="none" />
<path d="M91.20 219.33 L150.00 239.25" stroke-width="0.85" fill="none" />
<path d="M46.59 355.40 L98.75 327.50" stroke-width="0.85" fill="none" />
<path d="M86.39 389.69 L94.90 374.75" stroke-width="0.85" fill="none" />
<path d="M296.13 375.31 L340.00 258.00" stroke-width="0.85" fill="none" />
<path d="M323.41 368.25 L337.50 308.75" stroke-width="0.85" fill="none" />
<path d="M348.24 372.72 L358.75 295.00" stroke-width="0.85" fill="none" />
<path d="M378.32 376.98 L388.00 323.75" stroke-width="0.85" fill="none" />
<path d="M406.49 383.22 L417.50 300.00" stroke-width="0.85" fill="none" />
<path d="M435.19 390.71 L441.25 333.75" stroke-width="0.85" fill="none" />
<path d="M498.41 391.23 L482.50 308.75" stroke-width="0.85" fill="none" />
<path d="M529.22 389.56 L516.00 372.00" stroke-width="0.85" fill="none" />
<path d="M567.02 331.99 L505.00 313.75" stroke-width="0.85" fill="none" />
<path d="M284.50 190.00 L286.07 185.62 L283.68 185.42 Z" stroke-width="0.38" fill="#222" />
<path d="M388.00 323.75 L386.01 327.96 L388.38 328.39 Z" stroke-width="0.38" fill="#222" />
</svg>
</body></html>
